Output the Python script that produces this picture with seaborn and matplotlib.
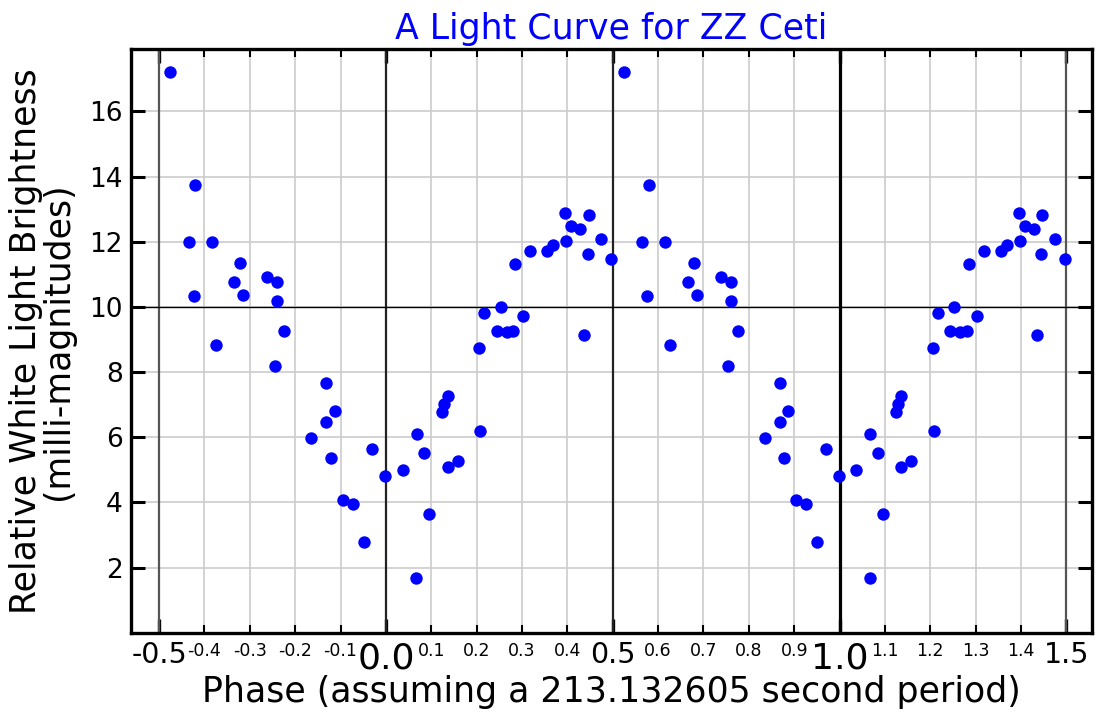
import matplotlib
matplotlib.use("Agg")
import matplotlib.pyplot as plt
import seaborn as sns
import numpy as np
import pandas as pd
from matplotlib.ticker import FixedLocator

# one cycle of the folded light curve (phase in [0, 1))
phase = [0.037, 0.066, 0.068, 0.085, 0.096, 0.124, 0.129, 0.136, 0.136, 0.158,
         0.206, 0.207, 0.217, 0.244, 0.253, 0.266, 0.281, 0.285, 0.303, 0.318,
         0.356, 0.368, 0.395, 0.397, 0.408, 0.428, 0.436, 0.445, 0.447, 0.475,
         0.497, 0.525, 0.565, 0.576, 0.579, 0.616, 0.626, 0.666, 0.679, 0.686,
         0.738, 0.755, 0.760, 0.760, 0.776, 0.836, 0.868, 0.868, 0.878, 0.887,
         0.905, 0.927, 0.951, 0.969, 0.998]
brightness = [5.01, 1.69, 6.09, 5.52, 3.64, 6.79, 7.01, 7.27, 5.08, 5.28,
              8.75, 6.20, 9.80, 9.26, 9.99, 9.22, 9.25, 11.31, 9.72, 11.71,
              11.71, 11.91, 12.87, 12.01, 12.49, 12.40, 9.13, 11.64, 12.81, 12.09,
              11.46, 17.22, 11.99, 10.33, 13.74, 11.99, 8.82, 10.76, 11.35, 10.38,
              10.93, 8.20, 10.76, 10.18, 9.25, 5.99, 7.67, 6.47, 5.35, 6.80,
              4.08, 3.96, 2.78, 5.64, 4.81]
cycle_shifts = [-1, 0, 1]

y_ticks = [2, 4, 6, 8, 10, 12, 14, 16]
x_major = [-0.5, 0.0, 0.5, 1.0, 1.5]
x_minor = [-0.4, -0.3, -0.2, -0.1, 0.1, 0.2, 0.3, 0.4, 0.6, 0.7, 0.8, 0.9,
           1.1, 1.2, 1.3, 1.4]

# repeat the cycle so the plot spans phase -0.5 .. 1.5
frames = []
for s in cycle_shifts:
    frames.append(pd.DataFrame({"phase": np.array(phase) + s, "mag": brightness}))
df = pd.concat(frames, ignore_index=True)
df = df[(df.phase >= -0.5) & (df.phase <= 1.5)]

sns.set_theme(style="white")
plt.rcParams['font.family'] = ['DejaVu Sans']
plt.rcParams['text.color'] = 'black'
plt.rcParams['axes.labelcolor'] = 'black'

fig = plt.figure(figsize=(11, 7.15), dpi=100)
ax = fig.add_axes([0.119, 0.115, 0.874, 0.817])

ax.set_xlim(-0.562, 1.557)
ax.set_ylim(0, 17.93)

ax.xaxis.set_major_locator(FixedLocator(x_major))
ax.xaxis.set_minor_locator(FixedLocator(x_minor))
ax.set_yticks(y_ticks)

ax.grid(True, which='both', axis='x', color='#cccccc', lw=1.2, zorder=0)
ax.grid(True, which='major', axis='y', color='#cccccc', lw=1.2, zorder=0)

for xv in [-0.5, 1.5]:
    ax.axvline(xv, color='#555555', lw=1.6, zorder=1)
for xv in [0.0, 0.5]:
    ax.axvline(xv, color='#222222', lw=1.6, zorder=1)
ax.axvline(1.0, color='black', lw=2.3, zorder=1)
ax.axhline(10, color='black', lw=1.0, zorder=1)

sns.scatterplot(data=df, x="phase", y="mag", ax=ax, color='#0000ff',
                s=80, linewidth=0, zorder=3, legend=False)

for sp in ax.spines.values():
    sp.set_linewidth(2.4)
    sp.set_color('black')

ax.tick_params(axis='x', which='major', direction='in', length=10, width=2.4,
               top=True, bottom=True, pad=6, colors='black')
ax.tick_params(axis='x', which='minor', direction='in', length=6, width=1.5,
               top=True, bottom=True, pad=7, labelsize=12.5, colors='black')
ax.tick_params(axis='y', which='major', direction='in', length=10, width=2.2,
               left=True, right=True, labelsize=19, pad=6, colors='black')

ax.set_xticklabels([f"{v:.1f}" for v in x_major])
ax.set_xticklabels([f"{v:.1f}" for v in x_minor], minor=True)
for lab, v in zip(ax.get_xticklabels(), x_major):
    lab.set_fontsize(26 if float(v).is_integer() else 20.5)

ax.set_title("A Light Curve for ZZ Ceti", color='#0000ff', fontsize=25, pad=7)
ax.set_xlabel("Phase (assuming a 213.132605 second period)", fontsize=25,
              labelpad=0)
ax.set_ylabel("Relative White Light Brightness\n(milli-magnitudes)", fontsize=25,
              labelpad=10, linespacing=0.95)

fig.savefig("out.png", dpi=100)
